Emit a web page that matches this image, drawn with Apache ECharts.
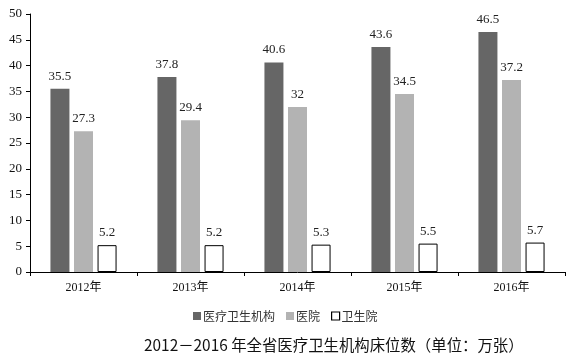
<!DOCTYPE html>
<html><head><meta charset="utf-8">
<script src="https://cdn.jsdelivr.net/npm/echarts@6/dist/echarts.min.js"></script>
<style>html,body{margin:0;padding:0;background:#fff}#c{width:570px;height:357px}</style>
</head><body><div id="c"></div>
<script>
const categories = ['2012年','2013年','2014年','2015年','2016年'];
const institutions = [35.5, 37.8, 40.6, 43.6, 46.5];
const hospitals = [27.3, 29.4, 32, 34.5, 37.2];
const healthCenters = [5.2, 5.2, 5.3, 5.5, 5.7];
const yTicks = [0,5,10,15,20,25,30,35,40,45,50];
const titleText = '2012－2016 年全省医疗卫生机构床位数（单位：万张）';

const serif = '"Liberation Serif","DejaVu Serif","Noto Sans CJK SC",serif';
const chart = echarts.init(document.getElementById('c'));
const lbl = {show:true, position:'top', distance:6, fontFamily:serif, fontSize:13, color:'#222'};
chart.setOption({
  animation:false,
  title:{text:titleText, left:139, top:332,
    textStyle:{fontFamily:'"Noto Sans CJK SC",sans-serif', fontWeight:'normal', fontSize:15.4, color:'#111'}},
  legend:{left:188, top:305, itemWidth:8, itemHeight:8, itemGap:11,
    textStyle:{fontFamily:'"Noto Sans CJK SC",serif', fontSize:12, color:'#333', padding:[0,0,0,-3]},
    data:[
      {name:'医疗卫生机构', icon:'rect'},
      {name:'医院', icon:'rect'},
      {name:'卫生院', icon:'rect', itemStyle:{color:'#fff', borderColor:'#000', borderWidth:1.2}}
    ]},
  grid:{left:30, right:5, top:14, bottom:85},
  xAxis:{type:'category', data:categories,
    axisLine:{lineStyle:{color:'#000', width:1}},
    axisTick:{show:true, length:4, lineStyle:{color:'#000'}},
    axisLabel:{fontFamily:serif, fontSize:12, color:'#111', margin:10}},
  yAxis:{type:'value', min:yTicks[0], max:yTicks[yTicks.length-1], interval:5,
    splitLine:{show:false},
    axisLine:{show:true, lineStyle:{color:'#000', width:1}},
    axisTick:{show:true, length:4, lineStyle:{color:'#000'}},
    axisLabel:{fontFamily:serif, fontSize:13, color:'#111', margin:8}},
  series:[
    {name:'医疗卫生机构', type:'bar', data:institutions, barWidth:19, barGap:'24%',
      itemStyle:{color:'#666666'}, label:lbl},
    {name:'医院', type:'bar', data:hospitals, barWidth:19, barGap:'24%',
      itemStyle:{color:'#b3b3b3'}, label:lbl},
    {name:'卫生院', type:'bar', data:healthCenters, barWidth:19, barGap:'24%',
      itemStyle:{color:'#ffffff', borderColor:'#000', borderWidth:1}, label:lbl}
  ]
});
</script></body></html>
